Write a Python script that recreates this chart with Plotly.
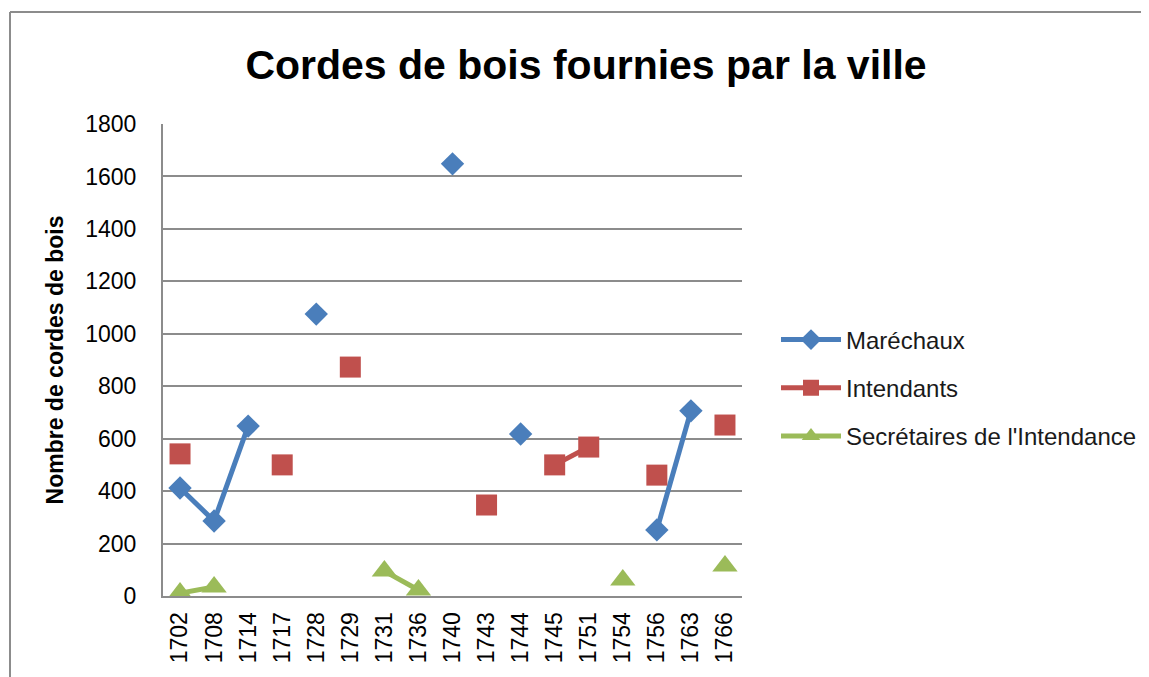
import plotly.graph_objects as go

years = ["1702", "1708", "1714", "1717", "1728", "1729", "1731", "1736", "1740",
         "1743", "1744", "1745", "1751", "1754", "1756", "1763", "1766"]
marechaux = [412, 286, 648, None, 1075, None, None, None, 1648,
             None, 618, None, None, None, 252, 706, None]
intendants = [542, None, None, 500, None, 873, None, None, None,
              347, None, 500, 568, None, 461, None, 652]
secretaires = [11, 34, None, None, None, None, 95, 23, None,
               None, None, None, None, 61, None, None, 114]

series_names = ["Maréchaux", "Intendants", "Secrétaires de l'Intendance"]
colors = ["#4A7EBB", "#C0504D", "#9BBB59"]
symbols = ["diamond", "square", "triangle-up"]
sizes = [18, 21, 22]

FONT = "Liberation Sans"
OFF = 8  # page body margin offset
W, H = 1149 - OFF, 677 - OFF
L, T = 163 - OFF, 124 - OFF
PW, PH = 579, 472
R, B = W - L - PW, H - T - PH

fig = go.Figure()
for name, vals, col, sym, sz in zip(series_names, [marechaux, intendants, secretaires], colors, symbols, sizes):
    fig.add_trace(go.Scatter(
        x=years, y=vals, name=name, mode="lines+markers",
        line=dict(color=col, width=5),
        marker=dict(symbol=sym, size=sz, color=col, line=dict(width=0)),
        connectgaps=False, legendgroup=name,
    ))

# target pixel coords (in screenshot) -> paper coords
def px2paper_x(px):
    return (px - OFF - L) / PW

def px2paper_y(py):
    return (H - B - (py - OFF)) / PH

fig.update_layout(
    width=W, height=H,
    margin=dict(l=L, r=R, t=T, b=B, autoexpand=False),
    paper_bgcolor="white", plot_bgcolor="white",
    font=dict(family=FONT, color="#000000", size=23),
    title=dict(text="<b>Cordes de bois fournies par la ville</b>",
               x=px2paper_x(586), xref="paper", xanchor="center",
               y=1 - (65 - OFF) / H, yanchor="middle",
               font=dict(family=FONT, size=41, color="#000000")),
    showlegend=True,
    legend=dict(x=px2paper_x(776), xanchor="left", y=px2paper_y(388), yanchor="middle",
                font=dict(family=FONT, size=24, color="#1a1a1a"),
                itemwidth=60, tracegroupgap=14, bgcolor="rgba(0,0,0,0)"),
    shapes=[
        dict(type="line", xref="paper", yref="paper",
             x0=px2paper_x(10), x1=px2paper_x(10), y0=px2paper_y(12), y1=px2paper_y(700),
             line=dict(color="#8c8c8c", width=2)),
        dict(type="line", xref="paper", yref="paper",
             x0=px2paper_x(10), x1=px2paper_x(1200), y0=px2paper_y(12), y1=px2paper_y(12),
             line=dict(color="#8c8c8c", width=2)),
    ],
)
fig.update_xaxes(
    type="category", categoryorder="array", categoryarray=years,
    range=[-0.5, len(years) - 0.5],
    tickangle=-90, tickfont=dict(family=FONT, size=23, color="#000000"),
    showline=True, linecolor="#8c8c8c", linewidth=2,
    showgrid=False, ticks="", ticklabelstandoff=5, zeroline=False,
)
fig.update_yaxes(
    range=[0, 1800], dtick=200, tick0=0,
    tickfont=dict(family=FONT, size=23, color="#000000"),
    showline=True, linecolor="#8c8c8c", linewidth=2,
    showgrid=True, gridcolor="#8c8c8c", gridwidth=1.5,
    zeroline=False, ticks="", ticklabelstandoff=20,
    title=dict(text="<b>Nombre de cordes de bois</b>", standoff=15,
               font=dict(family=FONT, size=23, color="#000000")),
)

fig.write_html("out.html")
